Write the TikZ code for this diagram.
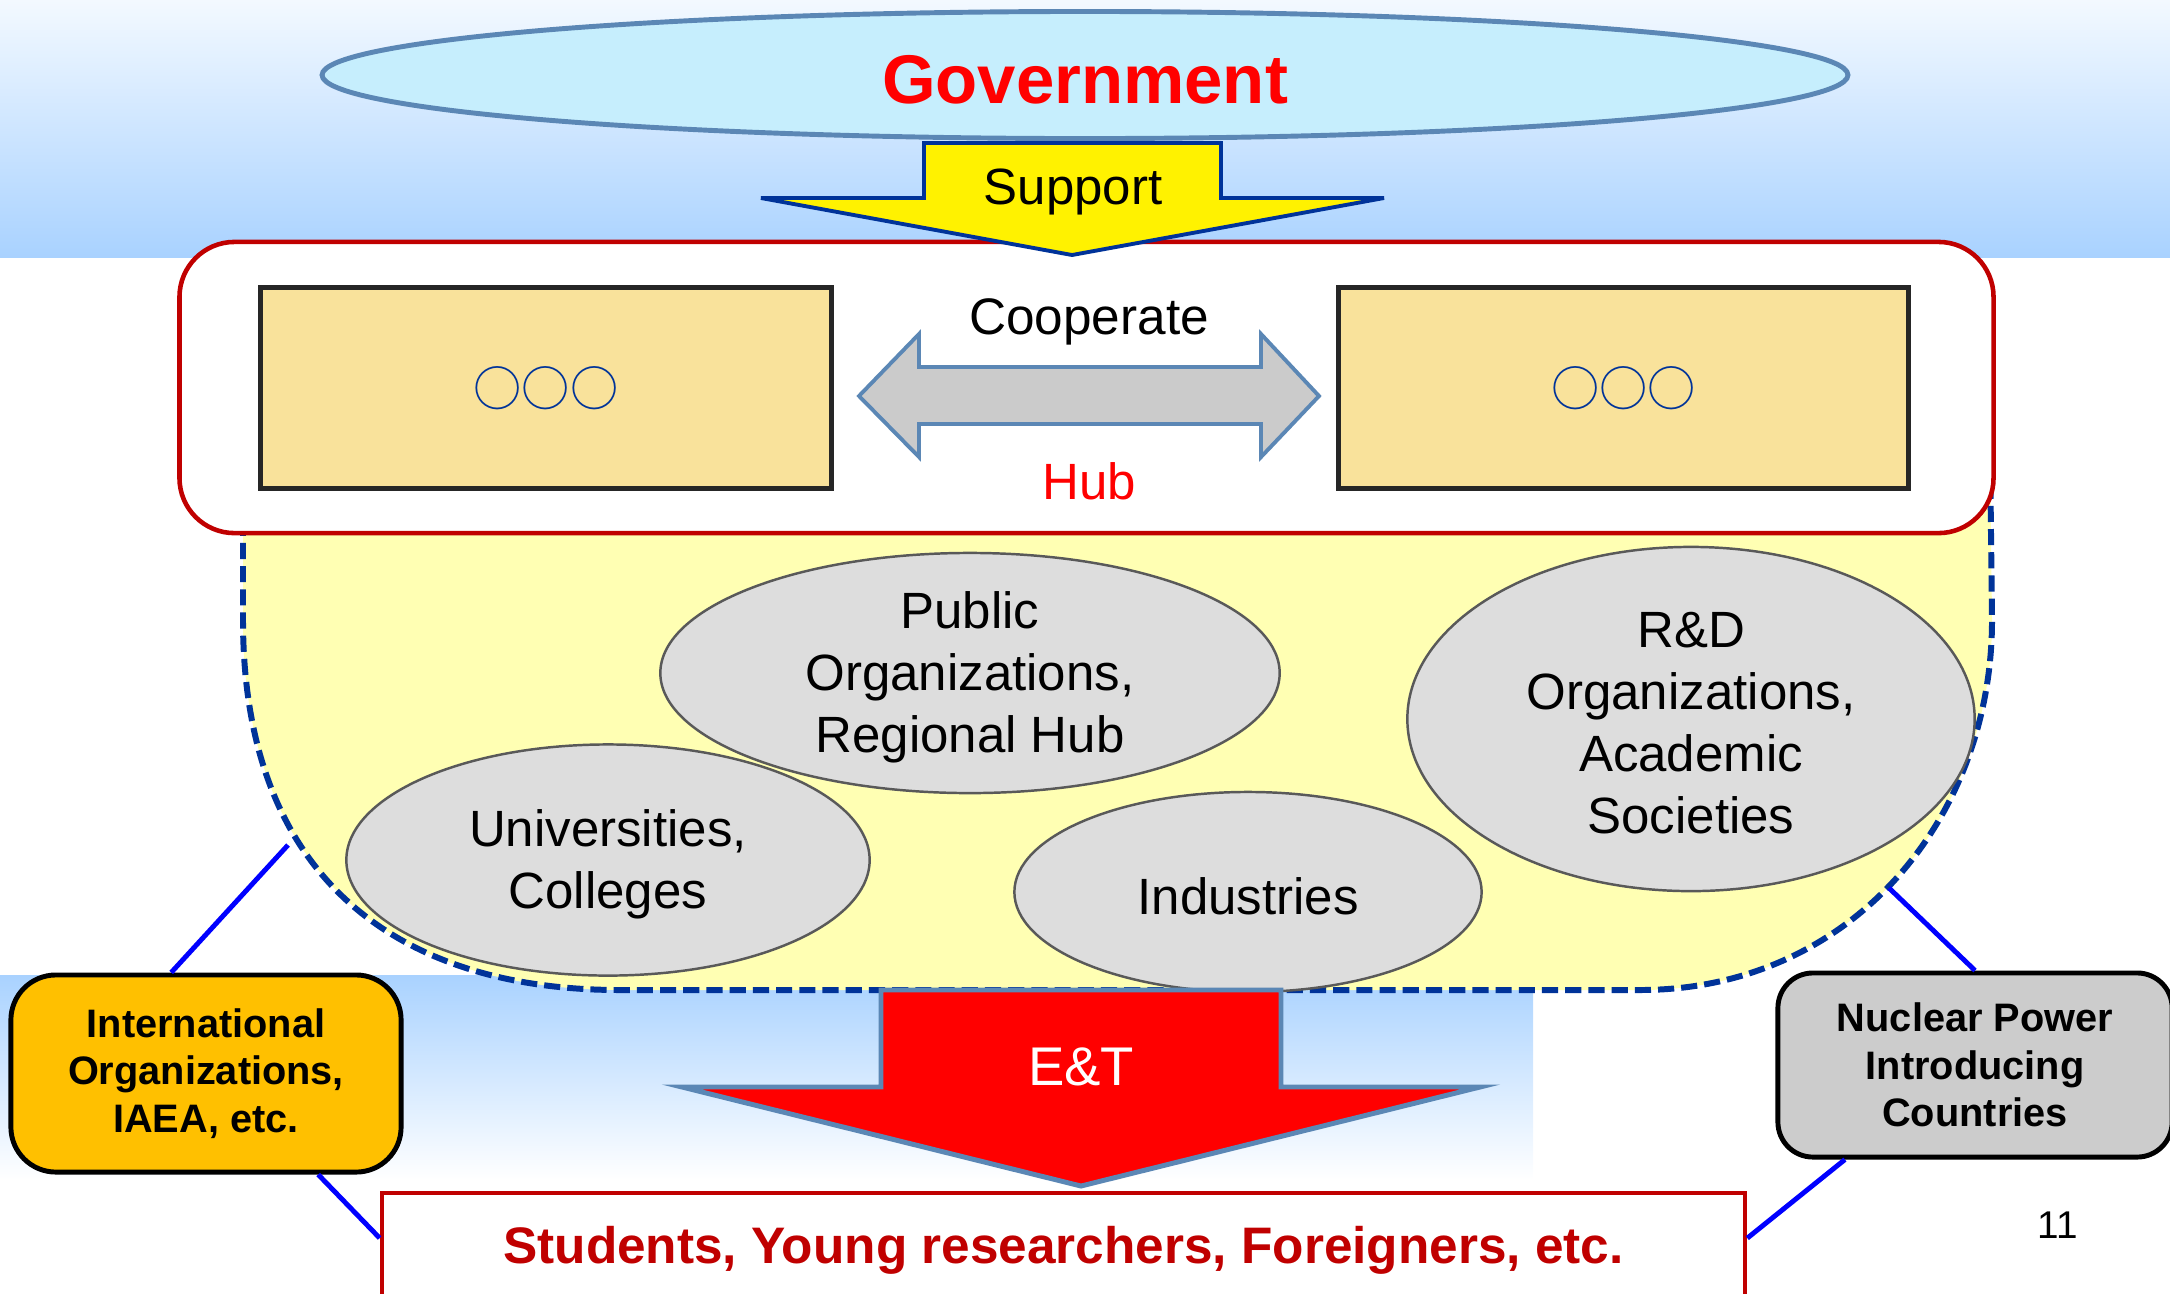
\documentclass[tikz,border=0pt]{standalone}
\usepackage{fontspec}
\setmainfont{Liberation Sans}
\newfontfamily\cjk{Noto Sans CJK JP}
\usetikzlibrary{shapes.geometric}

\definecolor{govfill}{HTML}{C6EEFD}
\definecolor{steel}{HTML}{5B87B5}
\definecolor{navy}{HTML}{003399}
\definecolor{darkred}{HTML}{C00000}
\definecolor{skyband}{HTML}{A9D2FF}
\definecolor{skytop}{HTML}{F3F9FF}
\definecolor{boxfill}{HTML}{F9E29B}
\definecolor{hubfield}{HTML}{FFFFB3}
\definecolor{orgfill}{HTML}{DDDDDD}
\definecolor{orgline}{HTML}{595959}
\definecolor{intlfill}{HTML}{FFC000}
\definecolor{npcfill}{HTML}{CCCCCC}
\definecolor{arrowgray}{HTML}{CBCBCB}

\begin{document}
\begin{tikzpicture}[x=0.01cm, y=-0.01cm,
  org/.style={ellipse, draw=orgline, line width=0.7pt, fill=orgfill, inner sep=0pt},
  orgtext/.style={align=center, yshift=-0.04cm, font=\fontsize{14.5}{17.6}\selectfont},
  member/.style={draw=black!85, line width=1.4pt, fill=boxfill, inner sep=0pt,
    minimum width=5.7cm, minimum height=2cm, text=navy, font=\cjk\fontsize{13.7}{14}\selectfont},
  sidebox/.style={draw=black, line width=1.4pt, inner sep=0pt, align=center,
    font=\bfseries\fontsize{11.3}{13.5}\selectfont},
  link/.style={blue, line width=1.4pt}
]
  \useasboundingbox (0,0) rectangle (2170,1293);
  % background bands
  \shade[top color=skytop, bottom color=skyband] (0,0) rectangle (2170,257);
  \shade[top color=skyband, bottom color=white] (0,975) rectangle (1533,1180);

  % hub field
  \draw[navy, line width=1.7pt, dash pattern=on 4.6pt off 2pt, fill=hubfield]
    (243,450) -- (243,620) .. controls (243,880) and (400,990) .. (620,990)
    -- (1640,990) .. controls (1850,990) and (1992,820) .. (1992,620) -- (1990,450);

  % hub
  \node[draw=darkred, line width=1.3pt, fill=white, rounded corners=0.55cm,
    minimum width=18.13cm, minimum height=2.91cm, inner sep=0pt] (hub) at (1086.5,387.5) {};
  \node[member] (box-1) at (546,388) {○○○};
  \node[member] (box-2) at (1623.5,388) {○○○};
  \filldraw[draw=steel, fill=arrowgray, line width=1.1pt]
    (859,396) -- (919,334) -- (919,367) -- (1261,367) -- (1261,334) -- (1319,396)
    -- (1261,457) -- (1261,424) -- (919,424) -- (919,457) -- cycle;
  \node[anchor=base, font=\fontsize{14.6}{17}\selectfont] (coop) at (1089,334) {Cooperate};
  \node[anchor=base, red, font=\fontsize{14.5}{17}\selectfont] (hub-t) at (1089,499) {Hub};

  % organizations
  \node[org, minimum width=6.19cm, minimum height=2.4cm] (org-1) at (970,673) {};
  \node[orgtext] (org-1-t) at (org-1) {Public\\Organizations,\\Regional Hub};
  \node[org, minimum width=5.23cm, minimum height=2.31cm] (org-2) at (608,860) {};
  \node[orgtext] (org-2-t) at (org-2) {Universities,\\Colleges};
  \node[org, minimum width=4.67cm, minimum height=2.0cm] (org-3) at (1248,892) {};
  \node[orgtext] (org-3-t) at (org-3) {Industries};
  \node[org, minimum width=5.67cm, minimum height=3.44cm] (org-4) at (1691,719) {};
  \node[orgtext] (org-4-t) at (org-4) {R\&D\\Organizations,\\Academic\\Societies};

  % government and support
  \node[ellipse, draw=steel, fill=govfill, line width=1.4pt, minimum width=15.25cm,
    minimum height=1.27cm, inner sep=0pt, text=red, text height=0.57cm,
    font=\bfseries\fontsize{19.6}{20}\selectfont] (gov) at (1085,75) {Government};
  \filldraw[draw=navy, fill=yellow, line width=1.1pt]
    (924,143) -- (924,198) -- (761,198) -- (1072,255) -- (1384,198) -- (1221,198)
    -- (1221,143) -- cycle;
  \node[anchor=base, font=\fontsize{14.5}{17}\selectfont] (sup) at (1073,204) {Support};

  % E&T
  \filldraw[draw=steel, fill=red, line width=1.4pt]
    (881,990) -- (881,1087) -- (682,1087) -- (1081,1186) -- (1480,1087) -- (1281,1087)
    -- (1281,990) -- cycle;
  \node[anchor=base, white, font=\fontsize{15.5}{17}\selectfont] (et) at (1081,1085) {E\&T};

  % receivers
  \node[draw=darkred, line width=1.1pt, fill=white, minimum width=13.63cm,
    minimum height=1.14cm, inner sep=0pt, text=darkred,
    font=\bfseries\fontsize{14.6}{17}\selectfont] (stud) at (1063.5,1250)
    {Students, Young researchers, Foreigners, etc.};
  \node[sidebox, fill=intlfill, rounded corners=0.45cm, minimum width=3.9cm,
    minimum height=1.97cm] (intl) at (206,1073.5) {International\\Organizations,\\IAEA, etc.};
  \node[sidebox, fill=npcfill, rounded corners=0.35cm, minimum width=3.94cm,
    minimum height=1.84cm] (npc) at (1975,1065) {Nuclear Power\\Introducing\\Countries};

  % links
  \coordinate (edge-1) at (288,845);
  \coordinate (edge-2) at (1889,888);
  \draw[link] (edge-1) -- (intl.109);
  \draw[link] (intl.-42) -- (stud.179.4);
  \draw[link] (edge-2) -- (npc.north);
  \draw[link] (npc.216) -- (stud.1);

  \node[anchor=base, font=\fontsize{11}{13}\selectfont] (page) at (2058,1238) {11};
\end{tikzpicture}
\end{document}
